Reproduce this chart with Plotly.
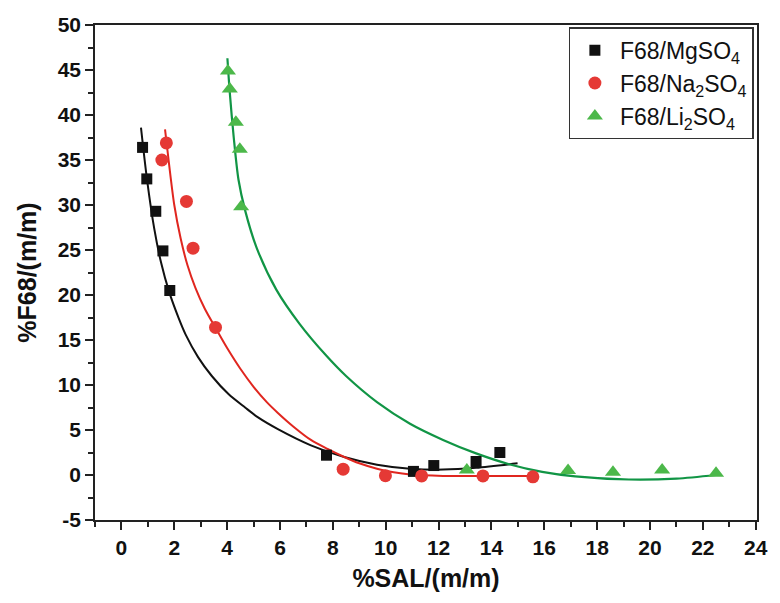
import plotly.graph_objects as go

# Measured points
mg_x = [0.80, 0.96, 1.30, 1.57, 1.83, 7.76, 11.05, 11.82, 13.42, 14.32]
mg_y = [36.4, 32.9, 29.3, 24.9, 20.5, 2.2, 0.4, 1.05, 1.5, 2.5]
na_x = [1.70, 1.53, 2.46, 2.71, 3.56, 8.39, 9.99, 11.36, 13.68, 15.57]
na_y = [36.9, 35.0, 30.4, 25.2, 16.4, 0.65, -0.07, -0.1, -0.1, -0.2]
li_x = [4.03, 4.10, 4.33, 4.48, 4.53, 13.07, 16.9, 18.6, 20.46, 22.5]
li_y = [44.9, 42.9, 39.2, 36.2, 29.8, 0.55, 0.5, 0.3, 0.55, 0.2]

# Fitted curves
mg_fit_x = [0.74, 0.97, 1.24, 1.5, 1.8, 2.17, 2.43, 2.9, 3.42, 4.05, 4.68, 5.17, 5.92, 7.17, 8.43, 9.67, 10.92, 12.17, 13.42, 14.99]
mg_fit_y = [38.6, 32.8, 27.4, 23.6, 20.4, 17.4, 15.6, 13.1, 11.0, 9.0, 7.5, 6.4, 5.1, 3.3, 2.0, 1.15, 0.7, 0.6, 0.8, 1.3]
na_fit_x = [1.65, 1.8, 2.0, 2.24, 2.5, 2.8, 3.15, 3.55, 4.0, 4.5, 5.0, 5.5, 5.92, 6.5, 7.17, 7.8, 8.43, 9.0, 9.67, 10.3, 10.92, 12.17, 13.42, 14.67, 15.6]
na_fit_y = [38.4, 34.6, 30.0, 26.3, 23.3, 20.8, 18.5, 16.4, 14.1, 11.8, 9.8, 8.1, 6.9, 5.4, 3.9, 2.9, 2.0, 1.3, 0.7, 0.3, 0.05, -0.1, -0.1, -0.1, -0.1]
li_fit_x = [4.01, 4.1, 4.25, 4.43, 4.68, 5.11, 5.86, 6.74, 7.74, 8.5, 9.67, 10.92, 12.17, 13.42, 14.67, 15.92, 17.17, 19.2, 21.0, 22.5]
li_fit_y = [46.3, 42.5, 37.5, 32.8, 29.4, 25.3, 20.6, 16.8, 13.3, 11.0, 8.1, 5.7, 3.9, 2.4, 1.2, 0.35, -0.15, -0.5, -0.4, 0.0]

x_ticks = list(range(0, 25, 2))
y_ticks = list(range(-5, 51, 5))

BLACK = "#111111"
RED_M = "#e53935"
RED_L = "#e0261f"
GREEN_M = "#4cb84a"
GREEN_L = "#119545"

FONT = "Liberation Sans, Arial, sans-serif"

fig = go.Figure()

curve_style = dict(mode="lines", showlegend=False, hoverinfo="skip")
fig.add_trace(go.Scatter(x=mg_fit_x, y=mg_fit_y, line=dict(color=BLACK, width=2, shape="spline", smoothing=0.8), **curve_style))
fig.add_trace(go.Scatter(x=na_fit_x, y=na_fit_y, line=dict(color=RED_L, width=2, shape="spline", smoothing=0.8), **curve_style))
fig.add_trace(go.Scatter(x=li_fit_x, y=li_fit_y, line=dict(color=GREEN_L, width=2.2, shape="spline", smoothing=0.8), **curve_style))

fig.add_trace(go.Scatter(x=mg_x, y=mg_y, mode="markers", name="F68/MgSO<sub>4</sub>",
                         marker=dict(symbol="square", size=11, color=BLACK)))
fig.add_trace(go.Scatter(x=na_x, y=na_y, mode="markers", name="F68/Na<sub>2</sub>SO<sub>4</sub>",
                         marker=dict(symbol="circle", size=13, color=RED_M)))
fig.add_trace(go.Scatter(x=li_x, y=li_y, mode="markers", name="F68/Li<sub>2</sub>SO<sub>4</sub>",
                         marker=dict(symbol="triangle-up", size=14, color=GREEN_M)))

axis_common = dict(
    showline=True, linecolor="#222", linewidth=1.5, mirror=True,
    ticks="outside", ticklen=8, tickwidth=1.5, tickcolor="#222",
    showgrid=False, zeroline=False,
    tickfont=dict(family=FONT, size=21, color="#111", weight="bold"),
)

fig.update_xaxes(
    range=[-1, 24.05], tickmode="array", tickvals=x_ticks, ticktext=[str(v) for v in x_ticks],
    minor=dict(dtick=1, tick0=0, ticks="outside", ticklen=5, tickwidth=1.5, tickcolor="#222"),
    title=dict(text="%SAL/(m/m)", font=dict(family=FONT, size=25, color="#111", weight="bold"), standoff=12),
    **axis_common,
)
fig.update_yaxes(
    range=[-5, 50], tickmode="array", tickvals=y_ticks, ticktext=[str(v) for v in y_ticks],
    minor=dict(dtick=2.5, tick0=0, ticks="outside", ticklen=5, tickwidth=1.5, tickcolor="#222"),
    title=dict(text="%F68/(m/m)", font=dict(family=FONT, size=25, color="#111", weight="bold"), standoff=14),
    **axis_common,
)

fig.update_layout(
    width=780, height=603,
    margin=dict(l=95, r=17, t=25, b=83),
    plot_bgcolor="white", paper_bgcolor="white",
    legend=dict(x=0.995, y=0.995, xanchor="right", yanchor="top",
                bordercolor="#333", borderwidth=1.2, bgcolor="white",
                font=dict(family=FONT, size=23, color="#111"),
                tracegroupgap=0, itemwidth=40),
)

fig.write_html("out.html")
